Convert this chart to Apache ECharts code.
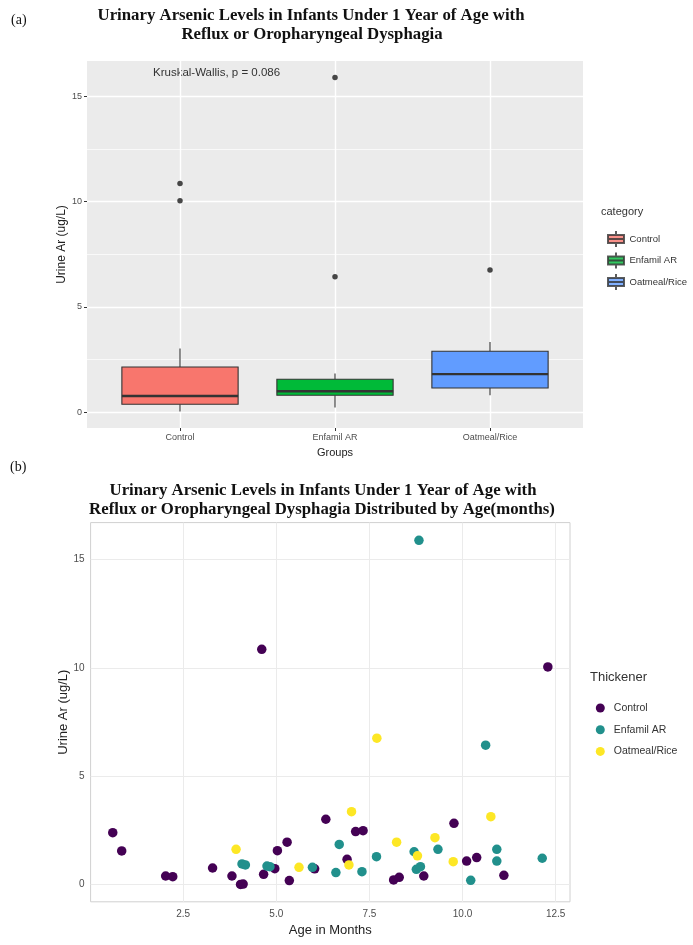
<!DOCTYPE html>
<html>
<head>
    <meta charset="UTF-8">
    <title>Urinary Arsenic Levels</title>
    <script src="https://cdn.jsdelivr.net/npm/echarts@6/dist/echarts.min.js"></script>
    <style>
        html, body { margin: 0; padding: 0; background: #fff; }
        #main { width: 693px; height: 945px; }
    </style>
</head>
<body>
<div id="main"></div>
<script type="text/javascript">
    // groups (a) boxplot
    const groups = ['Control', 'Enfamil AR', 'Oatmeal/Rice'];
    const boxMin = [0.03, 0.21, 0.80];
    const boxQ1 = [0.37, 0.80, 1.14];
    const boxMed = [0.76, 0.99, 1.80];
    const boxQ3 = [2.14, 1.56, 2.89];
    const boxMax = [3.02, 1.83, 3.33];
    const outlierGroup = [1, 1, 2, 2, 3];
    const outlierValue = [10.87, 10.05, 15.9, 6.43, 6.75];
    const boxTicks = [0, 5, 10, 15];

    // (b) scatter: age in months / urine Ar
    const controlAge = [0.61, 0.85, 2.03, 2.22, 3.29, 3.81, 4.04, 4.11, 4.61, 4.66, 4.96, 5.03, 5.29, 5.35, 6.03, 6.33, 6.90, 7.13, 7.33, 8.15, 8.30, 8.96, 9.77, 10.11, 10.38, 11.11, 12.29];
    const controlAr = [2.39, 1.55, 0.39, 0.36, 0.76, 0.39, 0.00, 0.02, 10.85, 0.47, 0.73, 1.56, 1.95, 0.18, 0.72, 3.01, 1.16, 2.44, 2.48, 0.21, 0.33, 0.39, 2.82, 1.08, 1.24, 0.42, 10.04];
    const enfamilAge = [4.08, 4.17, 4.75, 4.83, 5.97, 6.60, 6.69, 7.30, 7.69, 8.70, 8.76, 8.83, 8.87, 9.34, 10.22, 10.62, 10.92, 10.92, 12.14];
    const enfamilAr = [0.95, 0.90, 0.85, 0.82, 0.79, 0.55, 1.85, 0.59, 1.28, 1.51, 0.70, 15.88, 0.82, 1.62, 0.19, 6.43, 1.62, 1.08, 1.21];
    const oatAge = [3.92, 5.61, 6.95, 7.02, 7.70, 8.23, 8.79, 9.26, 9.75, 10.76];
    const oatAr = [1.62, 0.79, 0.90, 3.36, 6.75, 1.95, 1.32, 2.16, 1.05, 3.13];
    const ageTicks = [2.5, 5, 7.5, 10, 12.5];
    const arTicks = [0, 5, 10, 15];

    const boxColors = ['#F8766D', '#00BA38', '#619CFF'];
    const dotColors = ['#440154', '#21908C', '#FDE725'];

    function zip(a, b) {
        return a.map(function (v, i) { return [v, b[i]]; });
    }

    const boxData = groups.map(function (g, i) {
        return [i + 1, boxMin[i], boxQ1[i], boxMed[i], boxQ3[i], boxMax[i]];
    });

    // ggplot-like box: no whisker caps, thick median
    function renderBox(params, api) {
        const x = api.value(0);
        const low = api.coord([x, api.value(1)]);
        const q1 = api.coord([x, api.value(2)]);
        const med = api.coord([x, api.value(3)]);
        const q3 = api.coord([x, api.value(4)]);
        const high = api.coord([x, api.value(5)]);
        const w = api.size([0.75, 0])[0];
        const cx = low[0];
        const edge = { stroke: '#333', lineWidth: 1.1 };
        return {
            type: 'group',
            children: [
                { type: 'line', shape: { x1: cx, y1: low[1], x2: cx, y2: q1[1] }, style: edge },
                { type: 'line', shape: { x1: cx, y1: q3[1], x2: cx, y2: high[1] }, style: edge },
                { type: 'rect', shape: { x: cx - w / 2, y: q3[1], width: w, height: q1[1] - q3[1] },
                  style: { fill: boxColors[params.dataIndex], stroke: '#333', lineWidth: 1.1 } },
                { type: 'line', shape: { x1: cx - w / 2, y1: med[1], x2: cx + w / 2, y2: med[1] },
                  style: { stroke: '#333', lineWidth: 2.4 } }
            ]
        };
    }

    const serif = 'bold 16.8px "Liberation Serif", "DejaVu Serif", serif';
    const boxKey = 'path://M0,4H16V12H0Z M8,0V4 M8,12V16 M0,8H16';

    var myChart = echarts.init(document.getElementById('main'));
    var option = {
        animation: false,
        textStyle: { fontFamily: '"Liberation Sans", Arial, sans-serif' },
        grid: [
            { left: 87, top: 61, width: 496, height: 367, show: true, backgroundColor: '#EBEBEB',
              borderWidth: 0, containLabel: false, outerBoundsMode: 'none' },
            { left: 90.6, top: 522.6, width: 479.4, height: 379.2, show: true, backgroundColor: '#fff',
              borderColor: '#D0D0D0', borderWidth: 1, containLabel: false, outerBoundsMode: 'none' }
        ],
        xAxis: [
            { type: 'value', gridIndex: 0, min: 0.4, max: 3.6,
              name: 'Groups', nameLocation: 'middle', nameGap: 19, nameMoveOverlap: false,
              nameTextStyle: { fontSize: 11, color: '#222' },
              axisLine: { show: false, onZero: false },
              axisTick: { show: true, length: 3, lineStyle: { color: '#333' }, customValues: [1, 2, 3] },
              axisLabel: { customValues: [1, 2, 3], fontSize: 9, color: '#4D4D4D', margin: 5,
                           formatter: function (v) { return groups[Math.round(v) - 1]; } },
              splitLine: { show: true, lineStyle: { color: '#fff', width: 1.4 } } },
            { type: 'value', gridIndex: 1, min: 0.015, max: 12.885,
              name: 'Age in Months', nameLocation: 'middle', nameGap: 22, nameMoveOverlap: false,
              nameTextStyle: { fontSize: 13, color: '#222' },
              axisLine: { show: false, onZero: false },
              axisTick: { show: false, customValues: ageTicks },
              axisLabel: { customValues: ageTicks, fontSize: 10, color: '#4D4D4D', margin: 7,
                           formatter: function (v) { return v.toFixed(1); } },
              splitLine: { show: true, lineStyle: { color: '#EBEBEB', width: 1 } } }
        ],
        yAxis: [
            { type: 'value', gridIndex: 0, min: -0.76, max: 16.69,
              name: 'Urine Ar (ug/L)', nameLocation: 'middle', nameGap: 19, nameMoveOverlap: false,
              nameTextStyle: { fontSize: 12, color: '#222' },
              axisLine: { show: false, onZero: false },
              axisTick: { show: true, length: 3, lineStyle: { color: '#333' }, customValues: boxTicks },
              axisLabel: { customValues: boxTicks, fontSize: 9, color: '#4D4D4D', margin: 5 },
              splitLine: { show: true, lineStyle: { color: '#fff', width: 1.4 } } },
            { type: 'value', gridIndex: 0, min: -0.76, max: 16.69, position: 'left',
              axisLine: { show: false, onZero: false },
              axisTick: { show: false, customValues: [2.5, 7.5, 12.5] },
              axisLabel: { show: false, customValues: [2.5, 7.5, 12.5] },
              splitLine: { show: true, lineStyle: { color: '#fff', width: 0.7 } } },
            { type: 'value', gridIndex: 1, min: -0.8, max: 16.7,
              name: 'Urine Ar (ug/L)', nameLocation: 'middle', nameGap: 20.5, nameMoveOverlap: false,
              nameTextStyle: { fontSize: 13, color: '#222' },
              axisLine: { show: false, onZero: false },
              axisTick: { show: false, customValues: arTicks },
              axisLabel: { customValues: arTicks, fontSize: 10, color: '#4D4D4D', margin: 6 },
              splitLine: { show: true, lineStyle: { color: '#EBEBEB', width: 1 } } }
        ],
        legend: [
            { orient: 'vertical', left: 602, top: 225, itemWidth: 17, itemHeight: 16, itemGap: 3.5,
              icon: boxKey, selectedMode: false,
              data: ['key: Control', 'key: Enfamil AR', 'key: Oatmeal/Rice'],
              formatter: function (n) { return n.replace('key: ', ''); },
              textStyle: { fontSize: 9.5, color: '#333' } },
            { orient: 'vertical', left: 590.8, top: 697.5, itemWidth: 17, itemHeight: 9, itemGap: 10.7,
              icon: 'circle', selectedMode: false,
              data: groups,
              textStyle: { fontSize: 10.5, color: '#333' } }
        ],
        graphic: [
            { type: 'text', x: 11, y: 20, style: { text: '(a)', font: '14px "Liberation Serif", serif', fill: '#111', textVerticalAlign: 'middle' } },
            { type: 'text', x: 311, y: 16, style: { text: 'Urinary Arsenic Levels in Infants Under 1 Year of Age with', font: serif, fill: '#111', textAlign: 'center', textVerticalAlign: 'middle' } },
            { type: 'text', x: 312, y: 35, style: { text: 'Reflux or Oropharyngeal Dysphagia', font: serif, fill: '#111', textAlign: 'center', textVerticalAlign: 'middle' } },
            { type: 'text', x: 153, y: 73, style: { text: 'Kruskal-Wallis, p = 0.086', font: '11.5px "Liberation Sans", Arial, sans-serif', fill: '#333', textVerticalAlign: 'middle' } },
            { type: 'text', x: 601, y: 212, style: { text: 'category', font: '11px "Liberation Sans", Arial, sans-serif', fill: '#333', textVerticalAlign: 'middle' } },
            { type: 'text', x: 10, y: 467, style: { text: '(b)', font: '14px "Liberation Serif", serif', fill: '#111', textVerticalAlign: 'middle' } },
            { type: 'text', x: 323, y: 491, style: { text: 'Urinary Arsenic Levels in Infants Under 1 Year of Age with', font: serif, fill: '#111', textAlign: 'center', textVerticalAlign: 'middle' } },
            { type: 'text', x: 322, y: 510, style: { text: 'Reflux or Oropharyngeal Dysphagia Distributed by Age(months)', font: serif, fill: '#111', textAlign: 'center', textVerticalAlign: 'middle' } },
            { type: 'text', x: 590, y: 677, style: { text: 'Thickener', font: '13px "Liberation Sans", Arial, sans-serif', fill: '#333', textVerticalAlign: 'middle' } }
        ],
        series: [
            { type: 'custom', name: 'boxes', xAxisIndex: 0, yAxisIndex: 0,
              renderItem: renderBox, data: boxData, encode: { x: 0, y: [1, 2, 3, 4, 5] } },
            { type: 'scatter', name: 'outliers', xAxisIndex: 0, yAxisIndex: 0, symbolSize: 5.5,
              itemStyle: { color: '#1A1A1A' }, data: zip(outlierGroup, outlierValue) },
            // legend-only series for panel (a)
            { type: 'scatter', name: 'key: Control', xAxisIndex: 0, yAxisIndex: 0, data: [],
              itemStyle: { color: boxColors[0], borderColor: '#333', borderWidth: 1 } },
            { type: 'scatter', name: 'key: Enfamil AR', xAxisIndex: 0, yAxisIndex: 0, data: [],
              itemStyle: { color: boxColors[1], borderColor: '#333', borderWidth: 1 } },
            { type: 'scatter', name: 'key: Oatmeal/Rice', xAxisIndex: 0, yAxisIndex: 0, data: [],
              itemStyle: { color: boxColors[2], borderColor: '#333', borderWidth: 1 } },
            // panel (b)
            { type: 'scatter', name: groups[0], xAxisIndex: 1, yAxisIndex: 2, symbolSize: 9.5,
              itemStyle: { color: dotColors[0], opacity: 1 }, data: zip(controlAge, controlAr) },
            { type: 'scatter', name: groups[1], xAxisIndex: 1, yAxisIndex: 2, symbolSize: 9.5,
              itemStyle: { color: dotColors[1], opacity: 1 }, data: zip(enfamilAge, enfamilAr) },
            { type: 'scatter', name: groups[2], xAxisIndex: 1, yAxisIndex: 2, symbolSize: 9.5,
              itemStyle: { color: dotColors[2], opacity: 1 }, data: zip(oatAge, oatAr) }
        ]
    };
    myChart.setOption(option);
</script>
</body>
</html>
